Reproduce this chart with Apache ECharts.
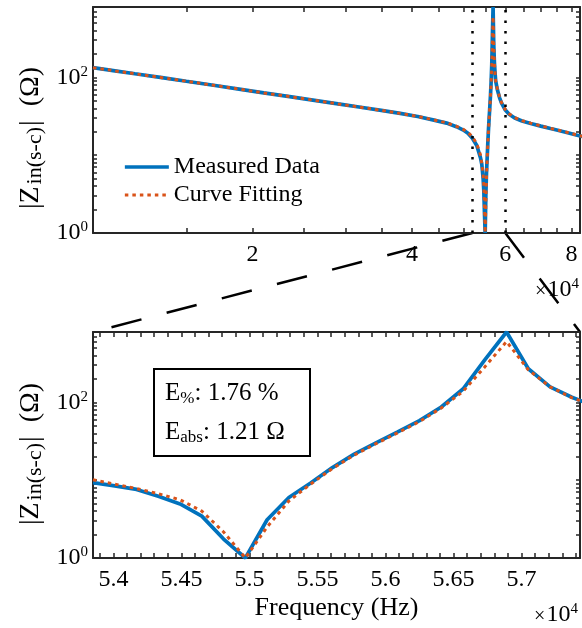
<!DOCTYPE html>
<html>
<head>
<meta charset="utf-8">
<script src="https://cdn.jsdelivr.net/npm/echarts@6/dist/echarts.min.js"></script>
<style>
  html, body { margin: 0; padding: 0; background: #fff; }
  #main { width: 582px; height: 628px; }
</style>
</head>
<body>
<div id="main"></div>
<script>
// |Z| readings (ohm) vs frequency (Hz)
// wide sweep below the zoomed band
var lowFreq = [10000, 11000, 12000, 13500, 15000, 17000, 19000, 21000, 23500, 26000, 29000,
  32000, 35000, 38000, 41000, 44000, 46500, 48500, 50000, 51000, 52000, 53000];
var lowMeasured = [133, 121, 111, 99, 89, 78.5, 70, 63, 56.5, 51, 45.5,
  41.2, 37.6, 34.4, 31.4, 28.2, 25.8, 23.2, 21, 19.1, 16.5, 13.3];
var lowFitted = [133, 121, 111, 99, 89, 78.5, 70, 63, 56.5, 51, 45.5,
  41.2, 37.6, 34.4, 31.4, 28.3, 26, 23.5, 21.4, 19.6, 17.2, 14];

// zoomed band (bottom panel)
var zoomFreq = [53850, 54010, 54170, 54330, 54490, 54650, 54810, 54970, 55130, 55290, 55450, 55610,
  55770, 55930, 56090, 56250, 56410, 56570, 56730, 56890, 57050, 57210, 57370, 57530];
var zoomMeasured = [9.3, 8.45, 7.6, 6.2, 4.95, 3.45, 1.75, 1.0, 3.1, 6.0, 9.2, 14.5,
  21.6, 30.2, 41.7, 58.2, 87, 148, 350, 800, 270, 158, 116, 90];
var zoomFitted = [10.1, 8.9, 7.8, 6.7, 5.6, 4.0, 2.16, 1.0, 2.5, 5.4, 8.9, 14.1,
  21, 29.4, 40.6, 56.6, 84.5, 138, 285, 603, 262, 158, 115, 90];

// wide sweep above the zoomed band
var highFreq = [58000, 58500, 59000, 60000, 61000, 62500, 64500, 67000, 70000, 73000, 76000, 79000, 82000, 84000];
var highMeasured = [68, 55, 47, 38, 33.5, 30, 27.5, 25.5, 23.6, 22, 20.6, 19.3, 18, 17.3];
var highFitted = [69, 56, 47.5, 38.5, 34, 30.3, 27.8, 25.8, 23.8, 22.1, 20.7, 19.4, 18.1, 17.4];

// dotted markers of the zoomed band in the top panel
var zoomMarks = [52000, 60000];

// ticks and labels
var topXTicks = [10000, 15000, 20000, 25000, 30000, 35000, 40000, 45000, 50000, 55000, 60000, 65000, 70000, 75000, 80000];
var topXLabels = [20000, 40000, 60000, 80000];
var botXTicks = [53900, 54000, 54100, 54200, 54300, 54400, 54500, 54600, 54700, 54800, 54900, 55000,
  55100, 55200, 55300, 55400, 55500, 55600, 55700, 55800, 55900, 56000, 56100, 56200, 56300, 56400,
  56500, 56600, 56700, 56800, 56900, 57000, 57100, 57200, 57300, 57400];
var botXLabels = [54000, 54500, 55000, 55500, 56000, 56500, 57000];
var yTicks = [1, 2, 3, 4, 5, 6, 7, 8, 9, 10, 20, 30, 40, 50, 60, 70, 80, 90, 100, 200, 300, 400, 500, 600, 700, 800];
var yLabels = [1, 100];

var blue = '#0072BD', orange = '#D95319', axisColor = '#262626';
var serif = 'Liberation Serif';

function pairs(f, z) {
  return f.map(function (v, i) { return [v, z[i]]; });
}
var topMeasured = pairs(lowFreq.concat(zoomFreq, highFreq), lowMeasured.concat(zoomMeasured, highMeasured));
var topFitted = pairs(lowFreq.concat(zoomFreq, highFreq), lowFitted.concat(zoomFitted, highFitted));

var supRich = {
  x: { fontSize: 20, fontFamily: serif, color: '#000', lineHeight: 26, padding: [4, 1, 0, 0] },
  b: { fontSize: 24, fontFamily: serif, color: '#000', lineHeight: 26 },
  s: { fontSize: 15, fontFamily: serif, color: '#000', lineHeight: 15, verticalAlign: 'top', padding: [0, 0, 20, 0] }
};

function xAxis(grid, pos, type, min, max, ticks, labels) {
  return {
    type: type, gridIndex: grid, position: pos, min: min, max: max,
    axisLine: { show: true, onZero: false, lineStyle: { color: axisColor, width: 2 } },
    axisTick: { show: true, inside: true, length: 5, customValues: ticks, lineStyle: { color: axisColor, width: 1.5 } },
    axisLabel: {
      show: pos === 'bottom', customValues: labels, margin: 10, color: '#000',
      fontFamily: serif, fontSize: 24,
      formatter: function (v) { return String(v / 1e4); }
    },
    splitLine: { show: false }
  };
}
function yAxis(grid, pos) {
  return {
    type: 'log', logBase: 10, gridIndex: grid, position: pos, min: 1, max: 800,
    axisLine: { show: true, onZero: false, lineStyle: { color: axisColor, width: 2 } },
    axisTick: { show: true, inside: true, length: 4, customValues: yTicks, lineStyle: { color: axisColor, width: 1.5 } },
    axisLabel: {
      show: pos === 'left', customValues: yLabels, margin: 5,
      formatter: function (v) { return '{b|10}{s|' + Math.round(Math.log10(v)) + '}'; },
      rich: supRich
    },
    splitLine: { show: false }
  };
}

var chart = echarts.init(document.getElementById('main'));

var lineMeasured = { color: blue, width: 3.7 };
var lineFitted = { color: orange, width: 3, type: [3.5, 4] };

chart.setOption({
  animation: false,
  backgroundColor: '#fff',
  grid: [
    { left: 93, top: 7, width: 487, height: 226, outerBoundsMode: 'none' },
    { left: 93, top: 332, width: 487, height: 226, outerBoundsMode: 'none' }
  ],
  xAxis: [
    xAxis(0, 'bottom', 'log', 10000, 83000, topXTicks, topXLabels),
    xAxis(0, 'top', 'log', 10000, 83000, topXTicks, topXLabels),
    Object.assign(xAxis(1, 'bottom', 'value', 53850, 57430, botXTicks, botXLabels), {
      name: 'Frequency (Hz)', nameLocation: 'middle', nameGap: 37,
      nameTextStyle: { fontFamily: serif, fontSize: 26, color: '#000' }
    }),
    xAxis(1, 'top', 'value', 53850, 57430, botXTicks, botXLabels)
  ],
  yAxis: [yAxis(0, 'left'), yAxis(0, 'right'), yAxis(1, 'left'), yAxis(1, 'right')],
  legend: {
    orient: 'vertical', left: 118, top: 150, itemWidth: 44, itemHeight: 14, itemGap: 4,
    textStyle: { fontFamily: serif, fontSize: 24, color: '#000' },
    itemStyle: { opacity: 0 },
    data: [
      { name: 'Measured Data', lineStyle: { width: 3.7 }, itemStyle: { opacity: 0 } },
      { name: 'Curve Fitting', lineStyle: { width: 3 }, itemStyle: { opacity: 0 } }
    ]
  },
  series: [
    {
      name: 'Measured Data', type: 'line', xAxisIndex: 0, yAxisIndex: 0, data: topMeasured,
      showSymbol: false, symbol: 'none', lineStyle: lineMeasured, itemStyle: { color: blue }, z: 2,
      markLine: {
        silent: true, symbol: 'none', label: { show: false },
        lineStyle: { color: '#000', width: 2.5, type: [2.5, 8] },
        data: zoomMarks.map(function (v) { return { xAxis: v }; })
      }
    },
    {
      name: 'Curve Fitting', type: 'line', xAxisIndex: 0, yAxisIndex: 0, data: topFitted,
      showSymbol: false, symbol: 'none', lineStyle: lineFitted, itemStyle: { color: orange }, z: 3
    },
    {
      name: 'Measured Data', type: 'line', xAxisIndex: 2, yAxisIndex: 2, data: pairs(zoomFreq, zoomMeasured),
      showSymbol: false, symbol: 'none', lineStyle: lineMeasured, itemStyle: { color: blue }, z: 2
    },
    {
      name: 'Curve Fitting', type: 'line', xAxisIndex: 2, yAxisIndex: 2, data: pairs(zoomFreq, zoomFitted),
      showSymbol: false, symbol: 'none', lineStyle: lineFitted, itemStyle: { color: orange }, z: 3
    }
  ]
});

// zoom connector lines, y labels, exponent labels and the error box
var topBase = chart.convertToPixel({ yAxisIndex: 0 }, 1);
var botTop = chart.convertToPixel({ yAxisIndex: 2 }, 800);
var m0 = chart.convertToPixel({ xAxisIndex: 0 }, zoomMarks[0]);
var m1 = chart.convertToPixel({ xAxisIndex: 0 }, zoomMarks[1]);
var b0 = chart.convertToPixel({ xAxisIndex: 2 }, 53850);
var b1 = chart.convertToPixel({ xAxisIndex: 2 }, 57430);

var dash = { stroke: '#000', lineWidth: 2.5, lineDash: [31, 26] };
var yName = {
  text: '{m||Z}{s|in(s-c)}{m||  (Ω)}',
  align: 'center', verticalAlign: 'middle',
  rich: {
    m: { fontFamily: serif, fontSize: 28, color: '#000', lineHeight: 30 },
    s: { fontFamily: serif, fontSize: 22, color: '#000', lineHeight: 22, verticalAlign: 'bottom', padding: [22, 1, 0, 2] }
  }
};
var errRich = {
  m: { fontFamily: serif, fontSize: 25, color: '#000', lineHeight: 28 },
  s: { fontFamily: serif, fontSize: 17, color: '#000', lineHeight: 17, verticalAlign: 'bottom', padding: [22, 0, 0, 0] }
};

chart.setOption({
  graphic: [
    { type: 'line', shape: { x1: m0, y1: topBase, x2: b0, y2: botTop }, style: dash, silent: true },
    { type: 'line', shape: { x1: m1, y1: topBase, x2: b1, y2: botTop }, style: dash, silent: true },
    { type: 'text', x: 31, y: 138, rotation: Math.PI / 2, style: yName, silent: true },
    { type: 'text', x: 31, y: 454, rotation: Math.PI / 2, style: yName, silent: true },
    { type: 'text', x: 557, y: 290, style: { text: '{x|×}{b|10}{s|4}', rich: supRich, align: 'center', verticalAlign: 'middle' }, silent: true },
    { type: 'text', x: 556, y: 615, style: { text: '{x|×}{b|10}{s|4}', rich: supRich, align: 'center', verticalAlign: 'middle' }, silent: true },
    { type: 'rect', shape: { x: 154, y: 369, width: 156, height: 87 }, style: { fill: '#fff', stroke: '#000', lineWidth: 2 }, z: 100 },
    { type: 'text', x: 165, y: 393, z: 101, style: { text: '{m|E}{s|%}{m|: 1.76 %}', rich: errRich, verticalAlign: 'middle' } },
    { type: 'text', x: 165, y: 432, z: 101, style: { text: '{m|E}{s|abs}{m|: 1.21 Ω}', rich: errRich, verticalAlign: 'middle' } }
  ]
});
</script>
</body>
</html>
